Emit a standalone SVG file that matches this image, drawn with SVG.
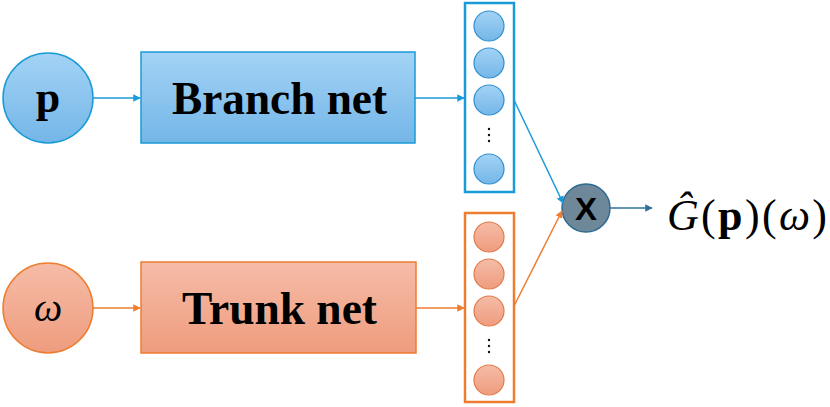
<svg xmlns="http://www.w3.org/2000/svg" width="830" height="407" viewBox="0 0 830 407">
<defs>
<linearGradient id="gb" x1="0" y1="0" x2="0" y2="1"><stop offset="0" stop-color="#a3d3f5"/><stop offset="1" stop-color="#74b6e8"/></linearGradient>
<linearGradient id="go" x1="0" y1="0" x2="0" y2="1"><stop offset="0" stop-color="#f5bca7"/><stop offset="1" stop-color="#ef9c7e"/></linearGradient>
<marker id="ab" viewBox="0 0 10 10" refX="9" refY="5" markerWidth="5" markerHeight="5" orient="auto"><path d="M0,0L10,5L0,10z" fill="#1a9bd7"/></marker>
<marker id="ao" viewBox="0 0 10 10" refX="9" refY="5" markerWidth="5" markerHeight="5" orient="auto"><path d="M0,0L10,5L0,10z" fill="#ed7d31"/></marker>
<marker id="ag" viewBox="0 0 10 10" refX="9" refY="5" markerWidth="5" markerHeight="5" orient="auto"><path d="M0,0L10,5L0,10z" fill="#2f7296"/></marker>
<style>
.b{fill:url(#gb);stroke:#1a9bd7;stroke-width:1.5}
.o{fill:url(#go);stroke:#ed7d31;stroke-width:1.5}
.bc{fill:url(#gb);stroke:#2e8fd0;stroke-width:1.2}
.oc{fill:url(#go);stroke:#e07a4a;stroke-width:1.2}
.cb{fill:#fff;stroke:#1a9bd7;stroke-width:2.5}
.co{fill:#fff;stroke:#ed7d31;stroke-width:2.5}
.t{font-family:"Liberation Serif",serif;font-weight:bold;fill:#000}
.lb{stroke:#1a9bd7;stroke-width:1.5;fill:none;marker-end:url(#ab)}
.lo{stroke:#ed7d31;stroke-width:1.5;fill:none;marker-end:url(#ao)}
.dot{fill:#111}
</style>
</defs>
<g id="p"><circle class="b" cx="48" cy="98" r="45"/><text class="t" x="48" y="112" font-size="44" text-anchor="middle">p</text></g>
<g id="omega"><circle class="o" cx="48" cy="308" r="45"/><text x="48" y="321" font-family="Liberation Serif,serif" font-style="italic" font-size="40" text-anchor="middle">ω</text></g>
<g id="branch"><rect class="b" x="141" y="52" width="274" height="91"/><text class="t" x="172" y="114" font-size="46" textLength="215" lengthAdjust="spacingAndGlyphs">Branch net</text></g>
<g id="trunk"><rect class="o" x="141" y="262" width="275" height="91"/><text class="t" x="182" y="324" font-size="46" textLength="195" lengthAdjust="spacingAndGlyphs">Trunk net</text></g>
<g id="bcol"><rect class="cb" x="465" y="3" width="49" height="189"/>
<circle class="bc" cx="489" cy="26" r="15"/><circle class="bc" cx="489" cy="63" r="15"/><circle class="bc" cx="489" cy="100" r="15"/><circle class="bc" cx="489" cy="169" r="15"/>
<circle class="dot" cx="489" cy="129" r="1.2"/><circle class="dot" cx="489" cy="135" r="1.2"/><circle class="dot" cx="489" cy="141" r="1.2"/></g>
<g id="ocol"><rect class="co" x="465" y="213" width="49" height="189"/>
<circle class="oc" cx="489" cy="237" r="15"/><circle class="oc" cx="489" cy="274" r="15"/><circle class="oc" cx="489" cy="311" r="15"/><circle class="oc" cx="489" cy="380" r="15"/>
<circle class="dot" cx="489" cy="340" r="1.2"/><circle class="dot" cx="489" cy="346" r="1.2"/><circle class="dot" cx="489" cy="352" r="1.2"/></g>
<g id="mult"><circle cx="586" cy="208" r="24" fill="#6e8799" stroke="#2e6b92" stroke-width="1.5"/><text x="586" y="220" font-family="Liberation Sans,sans-serif" font-weight="bold" font-size="32" text-anchor="middle" textLength="22" lengthAdjust="spacingAndGlyphs">X</text></g>
<g id="out"><text x="667" y="230" font-family="Liberation Serif,serif" font-size="44" textLength="160" lengthAdjust="spacing"><tspan font-style="italic">Ĝ</tspan>(<tspan font-weight="bold">p</tspan>)(<tspan font-style="italic">ω</tspan>)</text></g>
<g id="connectors">
<line class="lb" x1="93" y1="98" x2="140" y2="98"/>
<line class="lb" x1="415" y1="98" x2="464" y2="98"/>
<line class="lo" x1="93" y1="308" x2="140" y2="308"/>
<line class="lo" x1="416" y1="308" x2="464" y2="308"/>
<line class="lb" x1="514" y1="100" x2="563" y2="203"/>
<line class="lo" x1="514" y1="306" x2="562" y2="211"/>
<line x1="610" y1="208" x2="652" y2="208" stroke="#2f7296" stroke-width="1.5" marker-end="url(#ag)"/>
</g>
</svg>
